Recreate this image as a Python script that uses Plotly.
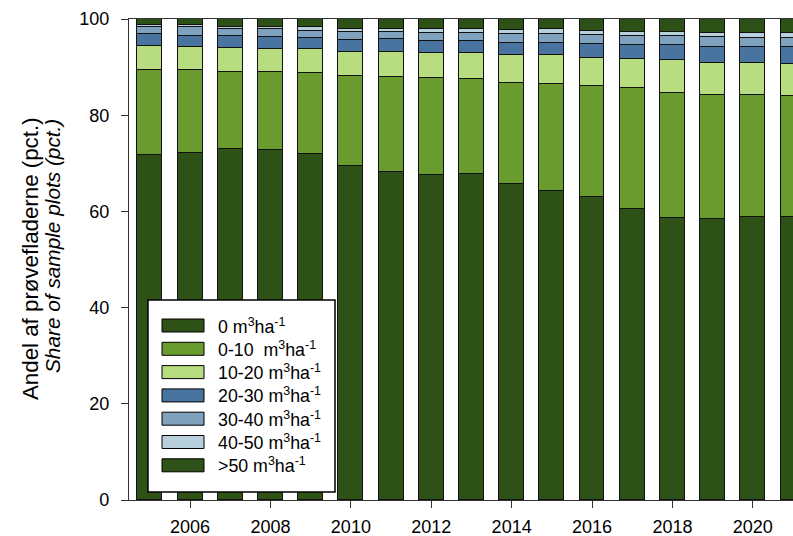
import plotly.graph_objects as go

# Share of sample plots by deadwood volume class, per inventory year
years = list(range(2005, 2022))

cls_0 = [71.7, 72.2, 73.0, 72.7, 72.0, 69.5, 68.2, 67.5, 67.8, 65.6, 64.3, 63.0, 60.6, 58.6, 58.4, 58.8, 58.75]
cls_0_10 = [17.8, 17.1, 15.9, 16.2, 16.7, 18.6, 19.8, 20.2, 19.8, 21.1, 22.2, 23.0, 25.0, 26.0, 25.8, 25.4, 25.15]
cls_10_20 = [4.9, 4.9, 5.0, 4.85, 5.0, 5.1, 5.2, 5.3, 5.4, 5.8, 6.0, 5.95, 6.1, 6.8, 6.7, 6.6, 6.8]
cls_20_30 = [2.4, 2.3, 2.55, 2.5, 2.4, 2.4, 2.6, 2.5, 2.35, 2.5, 2.6, 2.85, 2.95, 3.1, 3.3, 3.4, 3.5]
cls_30_40 = [1.5, 1.8, 1.45, 1.6, 1.47, 1.8, 1.5, 1.5, 1.8, 1.9, 1.8, 1.9, 1.85, 1.96, 2.0, 1.8, 1.8]
cls_40_50 = [0.4, 0.5, 0.5, 0.5, 0.7, 0.6, 0.7, 0.9, 0.85, 0.8, 0.95, 0.87, 0.9, 0.94, 0.95, 1.15, 1.15]
cls_50p = [1.3, 1.25, 1.6, 1.6, 1.73, 2.0, 2.0, 2.1, 2.0, 2.3, 2.15, 2.43, 2.6, 2.6, 2.85, 2.85, 2.85]

unit = " m<sup>3</sup>ha<sup>-1</sup>"
class_labels = ["0" + unit, "0-10\u00a0" + unit, "10-20" + unit, "20-30" + unit,
                "30-40" + unit, "40-50" + unit, ">50" + unit]
series = [cls_0, cls_0_10, cls_10_20, cls_20_30, cls_30_40, cls_40_50, cls_50p]
colors = ["#2e5117", "#6a9b2f", "#b8dc80", "#48749f", "#7fa2bf", "#b8cfdc", "#2e5117"]

x_ticks = list(range(2006, 2021, 2))
y_ticks = [0, 20, 40, 60, 80, 100]

FONT = "Arial, Liberation Sans, sans-serif"
W, H = 793, 536
ML, MR, MT, MB = 129, 0, 19, 36

fig = go.Figure()
for name, vals, col in zip(class_labels, series, colors):
    fig.add_trace(go.Bar(
        x=years, y=vals, name=name, width=0.62,
        marker=dict(color=col, line=dict(color="#111111", width=1.1)),
        showlegend=False,
    ))

# pixel -> paper helpers for the boxed key and the axis title
pw, ph = W - ML - MR, H - MT - MB
def px(x):
    return (x - ML) / pw
def py(y):
    return (H - MB - y) / ph

shapes = [dict(type="rect", xref="paper", yref="paper",
               x0=px(148), x1=px(335), y0=py(492), y1=py(300),
               fillcolor="white", line=dict(color="black", width=1.5))]
annotations = []
for i, (name, col) in enumerate(zip(class_labels, colors)):
    top = 319 + 23.3 * i
    shapes.append(dict(type="rect", xref="paper", yref="paper",
                       x0=px(162), x1=px(204), y0=py(top + 13), y1=py(top),
                       fillcolor=col, line=dict(color="black", width=1)))
    annotations.append(dict(xref="paper", yref="paper", x=px(216), y=py(top + 6.5),
                            text=name, showarrow=False, xanchor="left", yanchor="middle",
                            font=dict(family=FONT, size=17.8, color="black")))

annotations.append(dict(xref="paper", yref="paper", x=px(30), y=py(259),
                        text="Andel af prøvefladerne (pct.)", textangle=-90, showarrow=False,
                        xanchor="center", yanchor="middle",
                        font=dict(family=FONT, size=22.3, color="black")))
annotations.append(dict(xref="paper", yref="paper", x=px(52), y=py(246),
                        text="<i>Share of sample plots (pct.)</i>", textangle=-90, showarrow=False,
                        xanchor="center", yanchor="middle",
                        font=dict(family=FONT, size=20.8, color="black")))

fig.update_layout(
    width=W, height=H,
    margin=dict(l=ML, r=MR, t=MT, b=MB, pad=0),
    barmode="stack", bargap=0,
    plot_bgcolor="white", paper_bgcolor="white",
    font=dict(family=FONT, color="black"),
    shapes=shapes, annotations=annotations,
    xaxis=dict(range=[2004.48, 2021.0], tickvals=x_ticks, ticks="outside", ticklen=7,
               tickcolor="#333333", showline=True, linecolor="#333333", linewidth=1.2,
               mirror=True, showgrid=False, zeroline=False, ticklabelstandoff=3,
               tickfont=dict(family=FONT, size=18, color="black")),
    yaxis=dict(range=[0, 100], tickvals=y_ticks, ticks="outside", ticklen=7,
               tickcolor="#333333", showline=True, linecolor="#333333", linewidth=1.2,
               showgrid=False, zeroline=False, ticklabelstandoff=8,
               tickfont=dict(family=FONT, size=18, color="black")),
)

fig.write_html("out.html")
